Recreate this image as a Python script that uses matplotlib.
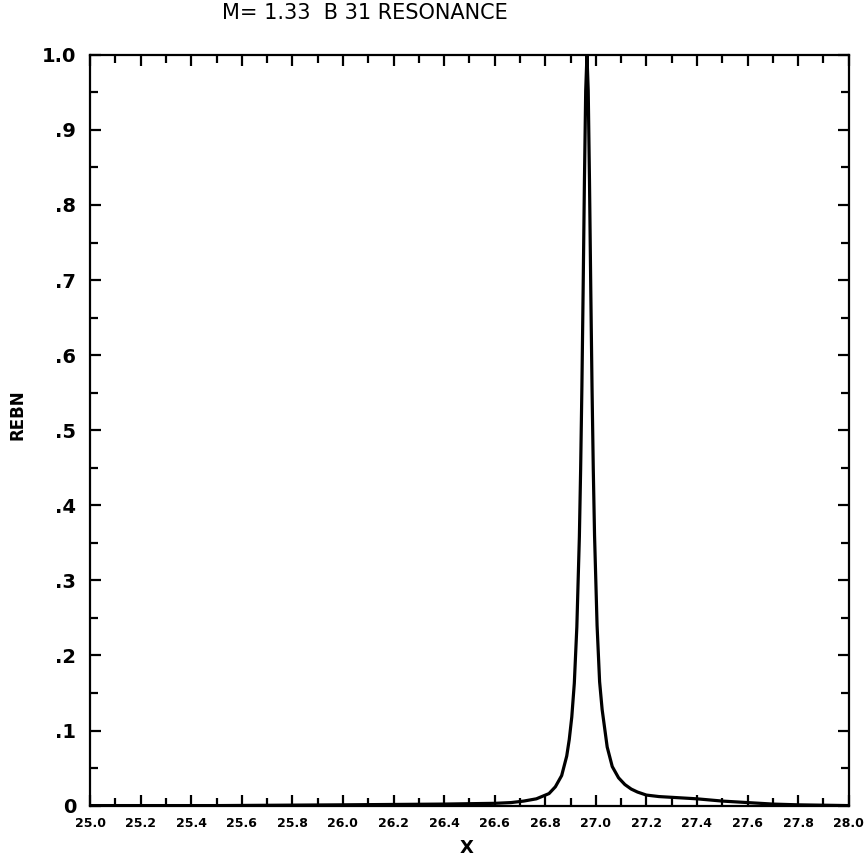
import numpy as np
import matplotlib
matplotlib.use("Agg")
import matplotlib.pyplot as plt
from matplotlib.ticker import FixedLocator, FixedFormatter, MultipleLocator

# resonance curve, read point by point
x = [25.00, 25.50, 26.00, 26.40, 26.60, 26.665, 26.715, 26.765, 26.815,
     26.840, 26.865, 26.885, 26.895, 26.905, 26.915, 26.925, 26.935,
     26.940, 26.945, 26.950, 26.955, 26.960, 26.965, 26.970, 26.975,
     26.980, 26.985, 26.990, 26.995, 27.005, 27.015, 27.025, 27.045,
     27.065, 27.090, 27.115, 27.140, 27.165, 27.200, 27.250, 27.300,
     27.400, 27.500, 27.600, 27.700, 27.800, 28.000]
rebn = [0.000, 0.000, 0.001, 0.002, 0.003, 0.004, 0.006, 0.009, 0.016,
        0.025, 0.040, 0.066, 0.088, 0.118, 0.163, 0.238, 0.358,
        0.448, 0.558, 0.690, 0.832, 0.952, 1.000, 0.952, 0.832,
        0.690, 0.558, 0.448, 0.360, 0.240, 0.165, 0.128, 0.078,
        0.052, 0.037, 0.028, 0.022, 0.018, 0.014, 0.012, 0.011,
        0.009, 0.006, 0.004, 0.002, 0.001, 0.000]

xticks = [25.0, 25.2, 25.4, 25.6, 25.8, 26.0, 26.2, 26.4, 26.6, 26.8,
          27.0, 27.2, 27.4, 27.6, 27.8, 28.0]
xlabels = ["25.0", "25.2", "25.4", "25.6", "25.8", "26.0", "26.2", "26.4",
           "26.6", "26.8", "27.0", "27.2", "27.4", "27.6", "27.8", "28.0"]
yticks = [0.0, 0.1, 0.2, 0.3, 0.4, 0.5, 0.6, 0.7, 0.8, 0.9, 1.0]
ylabels = ["0", ".1", ".2", ".3", ".4", ".5", ".6", ".7", ".8", ".9", "1.0"]

fig = plt.figure(figsize=(8.66, 8.57), dpi=100)
ax = fig.add_axes([0.104, 0.060, 0.876, 0.876])

ax.plot(x, rebn, color="black", lw=2.3, solid_joinstyle="round")

ax.set_xlim(25.0, 28.0)
ax.set_ylim(0.0, 1.0)

ax.xaxis.set_major_locator(FixedLocator(xticks))
ax.xaxis.set_major_formatter(FixedFormatter(xlabels))
ax.xaxis.set_minor_locator(MultipleLocator(0.1))
ax.yaxis.set_major_locator(FixedLocator(yticks))
ax.yaxis.set_major_formatter(FixedFormatter(ylabels))
ax.yaxis.set_minor_locator(MultipleLocator(0.05))

ax.tick_params(which="both", direction="in", top=True, right=True,
               width=1.6, color="black")
ax.tick_params(which="major", length=8)
ax.tick_params(which="minor", length=6)
ax.tick_params(axis="x", which="major", pad=8, labelsize=9)
ax.tick_params(axis="y", which="major", pad=10, labelsize=14)
for lab in ax.get_xticklabels() + ax.get_yticklabels():
    lab.set_fontweight("bold")

for sp in ax.spines.values():
    sp.set_linewidth(1.6)

fig.text(0.4215, 0.985, "M= 1.33  B 31 RESONANCE", ha="center", va="center",
         fontsize=15)
fig.text(0.539, 0.0105, "X", ha="center", va="center", fontsize=13,
         fontweight="bold")
fig.text(0.020, 0.516, "REBN", ha="center", va="center", rotation=90,
         fontsize=12, fontweight="bold")

fig.savefig("out.png", dpi=100)
